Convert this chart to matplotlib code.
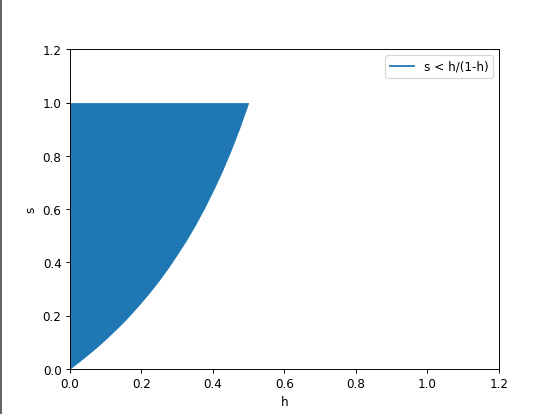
import matplotlib
matplotlib.use("Agg")
import matplotlib.pyplot as plt
from matplotlib.lines import Line2D

h_vals = [0.0, 0.025, 0.05, 0.075, 0.1, 0.125, 0.15, 0.175, 0.2, 0.225, 0.25,
          0.275, 0.3, 0.325, 0.35, 0.375, 0.4, 0.425, 0.45, 0.475, 0.5]
s_vals = [0.0, 0.026, 0.053, 0.081, 0.111, 0.143, 0.176, 0.212, 0.25, 0.29, 0.333,
          0.379, 0.429, 0.481, 0.538, 0.6, 0.667, 0.739, 0.818, 0.905, 1.0]
s_top = 1.0

fig = plt.figure(figsize=(6.4, 4.8), dpi=86.4)
ax = fig.add_axes([70 / 553, 45 / 414, 429 / 553, 319 / 414])

ax.fill_between(h_vals, s_vals, s_top, color="#1f77b4", linewidth=0)

ax.set_xlim(0, 1.2)
ax.set_ylim(0, 1.2)
ax.set_xticks([0.0, 0.2, 0.4, 0.6, 0.8, 1.0, 1.2])
ax.set_yticks([0.0, 0.2, 0.4, 0.6, 0.8, 1.0, 1.2])
ax.set_xlabel("h")
ax.set_ylabel("s")

handle = Line2D([], [], color="#1f77b4", linewidth=1.5)
ax.legend([handle], ["s < h/(1-h)"], loc="upper right")

# dark strip at the left edge of the screenshot
fig.add_artist(Line2D([1 / 553, 1 / 553], [0, 1], color="#555555",
                      linewidth=1.5, transform=fig.transFigure))

fig.savefig("out.png", dpi=86.4)
